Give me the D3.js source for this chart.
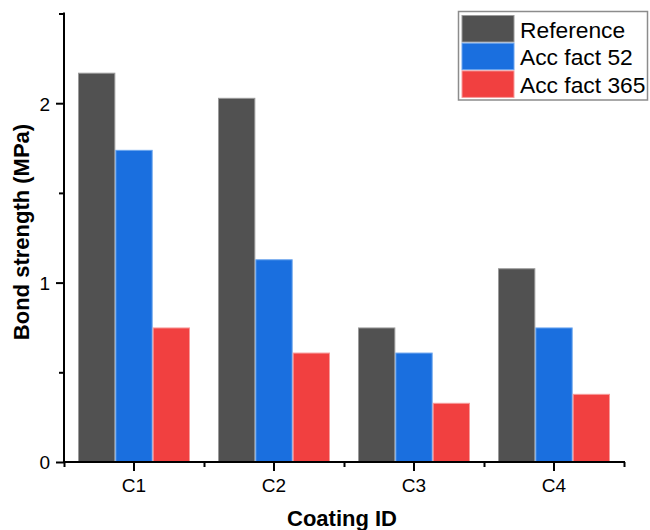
<!DOCTYPE html>
<html>
<head>
<meta charset="utf-8">
<script src="https://cdn.jsdelivr.net/npm/d3@7"></script>
<style>
  html, body { margin: 0; padding: 0; background: #fff; }
  svg { display: block; }
  text { font-family: "Liberation Sans", Arial, sans-serif; fill: #000; }
</style>
</head>
<body>
<svg id="chart" width="650" height="530"></svg>
<script>
// ---- data ----
const categories = ["C1", "C2", "C3", "C4"];
const seriesNames = ["Reference", "Acc fact 52", "Acc fact 365"];
const referenceValues = [2.17, 2.03, 0.75, 1.08];
const accFact52Values = [1.74, 1.13, 0.61, 0.75];
const accFact365Values = [0.75, 0.61, 0.33, 0.38];
const yMajorTicks = [0, 1, 2];
const yMinorTicks = [0.5, 1.5, 2.5];
const xTitle = "Coating ID";
const yTitle = "Bond strength (MPa)";

const seriesValues = [referenceValues, accFact52Values, accFact365Values];
const fills = ["#515151", "#1a6fdf", "#f14040"];
const strokes = ["#9a9a9a", "#6aa4ee", "#f79a9a"];

const svg = d3.select("#chart");

const plotLeft = 64, plotRight = 624, plotTop = 13.5, plotBottom = 462;

const x0 = d3.scaleBand().domain(categories).range([plotLeft, plotRight])
  .paddingInner(0.2).paddingOuter(0.1);
const x1 = d3.scaleBand().domain(seriesNames).range([0, x0.bandwidth()]);
const y = d3.scaleLinear().domain([0, 2.5]).range([plotBottom, plotTop]);

// bars
const rows = categories.map((c, i) => ({
  cat: c,
  vals: seriesNames.map((s, k) => ({ s, k, v: seriesValues[k][i] }))
}));
const g = svg.append("g");
g.selectAll("g.grp").data(rows).join("g")
  .attr("transform", d => `translate(${x0(d.cat)},0)`)
  .selectAll("rect").data(d => d.vals).join("rect")
  .attr("x", d => x1(d.s) + 0.5)
  .attr("width", x1.bandwidth() - 1)
  .attr("y", d => y(d.v) + 0.5)
  .attr("height", d => y(0) - y(d.v) - 0.5)
  .attr("fill", d => fills[d.k])
  .attr("stroke", d => strokes[d.k])
  .attr("stroke-width", 1);

// y axis
const yAxisMajor = d3.axisLeft(y).tickValues(yMajorTicks).tickFormat(d3.format("d"))
  .tickSizeInner(8).tickSizeOuter(0).tickPadding(6);
const yAx = svg.append("g").attr("transform", `translate(${plotLeft},0)`).call(yAxisMajor);
yAx.select(".domain").remove();
yAx.selectAll("line").attr("stroke", "#000").attr("stroke-width", 2);
yAx.selectAll("text").attr("font-size", 19).attr("font-family", "Liberation Sans, Arial, sans-serif").attr("dy", "0.36em");

const yAxisMinor = d3.axisLeft(y).tickValues(yMinorTicks).tickFormat("")
  .tickSizeInner(5).tickSizeOuter(0);
const yAxm = svg.append("g").attr("transform", `translate(${plotLeft},0)`).call(yAxisMinor);
yAxm.select(".domain").remove();
yAxm.selectAll("line").attr("stroke", "#000").attr("stroke-width", 2);

svg.append("line").attr("x1", plotLeft).attr("x2", plotLeft)
  .attr("y1", y(2.5) - 1).attr("y2", plotBottom + 1)
  .attr("stroke", "#000").attr("stroke-width", 2);

// x axis
const xAxis = d3.axisBottom(x0).tickSizeInner(9).tickSizeOuter(0).tickPadding(8);
const xAx = svg.append("g").attr("transform", `translate(0,${plotBottom})`).call(xAxis);
xAx.select(".domain").remove();
xAx.selectAll("line").attr("stroke", "#000").attr("stroke-width", 2);
xAx.selectAll("text").attr("font-size", 19).attr("font-family", "Liberation Sans, Arial, sans-serif");

const xEdges = d3.scaleLinear().domain([0, categories.length]).range([plotLeft, plotRight]);
const xAxisMinor = d3.axisBottom(xEdges).tickValues(d3.range(0, categories.length + 1))
  .tickFormat("").tickSizeInner(5).tickSizeOuter(0);
const xAxm = svg.append("g").attr("transform", `translate(0,${plotBottom})`).call(xAxisMinor);
xAxm.select(".domain").remove();
xAxm.selectAll("line").attr("stroke", "#000").attr("stroke-width", 2);

svg.append("line").attr("x1", plotLeft - 1).attr("x2", plotRight + 1)
  .attr("y1", plotBottom).attr("y2", plotBottom)
  .attr("stroke", "#000").attr("stroke-width", 2);

// titles
svg.append("text").attr("x", (plotLeft + plotRight) / 2 - 2).attr("y", 526)
  .attr("text-anchor", "middle").attr("font-size", 22).attr("font-weight", "bold")
  .text(xTitle);
svg.append("text").attr("transform", `translate(29,232) rotate(-90)`)
  .attr("text-anchor", "middle").attr("font-size", 22).attr("font-weight", "bold")
  .text(yTitle);

// legend
const lg = svg.append("g");
lg.append("rect").attr("x", 458.5).attr("y", 11.5).attr("width", 189).attr("height", 88.5)
  .attr("fill", "#fff").attr("stroke", "#8c8c8c").attr("stroke-width", 1.5);
seriesNames.forEach((s, k) => {
  const ty = 15 + k * 27.7;
  lg.append("rect").attr("x", 462).attr("y", ty + 0.5).attr("width", 52).attr("height", 26.5)
    .attr("fill", fills[k]).attr("stroke", strokes[k]).attr("stroke-width", 1);
  lg.append("text").attr("x", 520).attr("y", ty + 22.5).attr("font-size", 22.8).text(s);
});
</script>
</body>
</html>
